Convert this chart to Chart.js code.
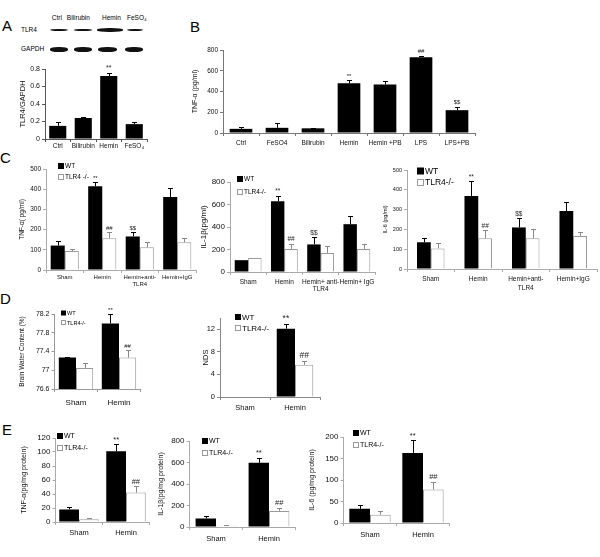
<!DOCTYPE html>
<html><head><meta charset="utf-8">
<script src="https://cdn.jsdelivr.net/npm/chart.js@4"></script>
<style>
body{margin:0;background:#fff;width:600px;height:557px;position:relative;overflow:hidden;font-family:"Liberation Sans",Arial,sans-serif;}
canvas{position:absolute;}
.L{position:absolute;font-size:15px;line-height:1;color:#000;}
.t{position:absolute;font-size:6.5px;line-height:1;color:#000;white-space:nowrap;}
.band{position:absolute;background:#111;border-radius:45%;filter:blur(0.5px);}
</style></head><body>
<div class="L" style="left:2px;top:18px">A</div>
<div class="L" style="left:190px;top:19px">B</div>
<div class="L" style="left:0px;top:150px">C</div>
<div class="L" style="left:0px;top:291px">D</div>
<div class="L" style="left:2px;top:422px">E</div>
<div id="blot"></div>
<script>
// ---------- data ----------
const FONT = '"Liberation Sans", Arial, sans-serif';
const blotLanes = ['Ctrl', 'Bilirubin', 'Hemin', 'FeSO₄'];

const catsA = ['Ctrl', 'Bilirubin', 'Hemin', 'FeSO₄'];
const valsA = [0.15, 0.24, 0.72, 0.17];
const errA  = [0.04, 0.01, 0.04, 0.03];
const marksA = ['', '', '**', ''];

const catsB = ['Ctrl', 'FeSO4', 'Bilirubin', 'Hemin', 'Hemin +PB', 'LPS', 'LPS+PB'];
const valsB = [40, 50, 45, 480, 468, 730, 220];
const errB  = [16, 46, 6, 30, 32, 15, 34];
const marksB = ['', '', '', '**', '', '##', '$$'];

const catsC = ['Sham', 'Hemin', ['Hemin+anti-', 'TLR4'], 'Hemin+IgG'];
const catsC2 = ['Sham', 'Hemin', ['Hemin+ anti-', 'TLR4'], 'Hemin+ IgG'];
const catsC3 = ['Sham', 'Hemin', ['Hemin+anti-', 'TLR4'], 'Hemin+IgG'];
const tnfWT = [121, 414, 166, 361], tnfWTerr = [23, 21, 21, 46];
const tnfKO = [94, 157, 113, 137],  tnfKOerr = [12, 30, 24, 20];
const il1WT = [105, 630, 245, 425], il1WTerr = [0, 50, 65, 70];
const il1KO = [125, 205, 170, 205], il1KOerr = [0, 45, 60, 40];
const il6WT = [135, 369, 210, 293], il6WTerr = [23, 75, 46, 47];
const il6KO = [104, 155, 155, 167], il6KOerr = [26, 42, 45, 22];
const marksCWT = ['', '**', '$$', ''];
const marksCKO = ['', '##', '', ''];

const catsD = ['Sham', 'Hemin'];
const bwcWT = [77.27, 78.0], bwcWTerr = [0.02, 0.2];
const bwcKO = [77.05, 77.27], bwcKOerr = [0.1, 0.16];
const bwcTicks = [76.6, 77, 77.4, 77.8, 78.2];
const ndsWT = [0, 12.1], ndsWTerr = [0, 0.9];
const ndsKO = [0, 5.7],  ndsKOerr = [0, 0.7];
const marksDWT = ['', '**'];
const marksDKO = ['', '##'];

const catsE = ['Sham', 'Hemin'];
const eTnfWT = [18, 101], eTnfWTerr = [4, 10];
const eTnfKO = [4, 42],   eTnfKOerr = [2, 9];
const eIl1WT = [80, 597], eIl1WTerr = [22, 46];
const eIl1KO = [12, 150], eIl1KOerr = [8, 30];
const eIl6WT = [33, 163], eIl6WTerr = [10, 29];
const eIl6KO = [19, 78],  eIl6KOerr = [8, 18];

// ---------- western blot (decorative image part) ----------
(function(){
  const b = document.getElementById('blot');
  const lx = [59, 83, 111, 136];
  blotLanes.forEach((t,i)=>{
    const d=document.createElement('div'); d.className='t'; d.textContent=t;
    d.style.left=(lx[i]-(t.length*1.8))+'px'; d.style.top='15px'; b.appendChild(d);
  });
  [['TLR4',27],['GAPDH',46]].forEach(([t,y])=>{
    const d=document.createElement('div'); d.className='t'; d.textContent=t;
    d.style.left='21px'; d.style.top=y+'px'; b.appendChild(d);
  });
  const tl=[[50,68,2],[74,92,2.5],[97,123,3.5],[127,143,2]];
  tl.forEach(([a,c,h])=>{const d=document.createElement('div');d.className='band';
    d.style.left=a+'px';d.style.width=(c-a)+'px';d.style.top=(30-h/2)+'px';d.style.height=h+'px';b.appendChild(d);});
  const gl=[[50,68],[74,92],[98,117],[125,143]];
  gl.forEach(([a,c])=>{const d=document.createElement('div');d.className='band';
    d.style.left=a+'px';d.style.width=(c-a)+'px';d.style.top='47px';d.style.height='4.5px';b.appendChild(d);});
})();

// ---------- plugins ----------
const errPlugin = {id:'errbars', afterDatasetsDraw(chart, args, opts){
  const ctx = chart.ctx, ys = chart.scales.y;
  chart.data.datasets.forEach((ds,i)=>{
    const meta = chart.getDatasetMeta(i);
    meta.data.forEach((el,j)=>{
      const v = ds.data[j], e = ds.errors ? ds.errors[j] : 0;
      let top = el.y;
      if (e > 0){
        const ye = ys.getPixelForValue(v+e);
        const x = Math.round(el.x)+0.5, yy = Math.round(ye)+0.5;
        ctx.save(); ctx.strokeStyle = ds.errColor; ctx.lineWidth = 1;
        ctx.beginPath(); ctx.moveTo(x, el.y); ctx.lineTo(x, yy);
        ctx.moveTo(x-2.5, yy); ctx.lineTo(x+2.5, yy); ctx.stroke(); ctx.restore();
        top = ye;
      }
      const m = ds.marks ? ds.marks[j] : '';
      if (m){
        ctx.save(); ctx.fillStyle = '#222'; ctx.font = (opts.size||7)+'px '+FONT;
        ctx.textAlign='center'; ctx.textBaseline='bottom';
        ctx.fillText(m, el.x, top-(opts.gap||2)); ctx.restore();
      }
    });
  });
}};
const legendPlugin = {id:'boxLegend', afterDraw(chart, args, o){
  if (!o || !o.show) return;
  const ctx = chart.ctx;
  chart.data.datasets.forEach((ds,i)=>{
    const x = o.x, y = o.y + i*o.dy, s = o.box;
    ctx.save();
    ctx.fillStyle = ds.backgroundColor; ctx.fillRect(x, y-s/2, s, s);
    if (ds.borderWidth){ ctx.strokeStyle = ds.borderColor; ctx.lineWidth=1; ctx.strokeRect(Math.round(x)+0.5, Math.round(y-s/2)+0.5, s-1, s-1); }
    ctx.fillStyle = '#000'; ctx.font = o.size+'px '+FONT; ctx.textBaseline='middle'; ctx.textAlign='left';
    ctx.fillText(ds.label, x+s+1, y+0.5);
    ctx.restore();
  });
}};

// ---------- builder ----------
function panel(box, area, c){
  const cv = document.createElement('canvas');
  cv.width = box[2]; cv.height = box[3];
  cv.style.left = box[0]+'px'; cv.style.top = box[1]+'px';
  document.body.appendChild(cv);
  const yW = area[0]-box[0], xH = box[1]+box[3]-area[3];
  const padTop = area[1]-box[1], padRight = box[0]+box[2]-area[2];
  const datasets = c.series.map(s=>({
    label:s.label, data:s.data, errors:s.err, marks:s.marks,
    backgroundColor:s.fill, borderColor:s.stroke||s.fill, borderWidth:s.bw||0,
    errColor:s.errColor||'#000', categoryPercentage:c.pct, barPercentage:1
  }));
  const ax = c.axis || '#888';
  const yScale = {
    min:c.min, max:c.max,
    grid:{drawOnChartArea:false, tickLength:3, color:ax},
    border:{color:ax},
    ticks:{stepSize:c.step, font:{size:c.tick, family:FONT}, color:'#111', padding:2,
      callback: v => String(+(+v).toFixed(2))},
    title:{display:true, text:c.ytitle, font:{size:c.tsize, family:FONT}, color:'#111', padding:0},
    afterFit: s => { s.width = yW; }
  };
  if (c.ticksList) yScale.afterBuildTicks = s => { s.ticks = c.ticksList.map(v=>({value:v})); };
  new Chart(cv, {type:'bar', data:{labels:c.labels, datasets}, options:{
    responsive:false, animation:false, events:[],
    layout:{padding:{top:padTop, right:padRight, left:0, bottom:0}},
    plugins:{legend:{display:false}, tooltip:{enabled:false},
      boxLegend: c.legend ? Object.assign({show:true}, c.legend, {x:c.legend.x-box[0], y:c.legend.y-box[1]}) : {show:false},
      errbars: {size:c.msize||7, gap:1}},
    scales:{
      x:{grid:{drawOnChartArea:false, tickLength:3, color:ax, offset:true}, border:{color:ax},
         ticks:{autoSkip:false, maxRotation:0, minRotation:0, font:{size:c.xsize||c.tick, family:FONT, lineHeight:c.xlh||1.1}, color:'#111', padding:c.xpad||1},
         afterFit: s => { s.height = xH; }},
      y: yScale
    }
  }, plugins:[errPlugin, legendPlugin]});
}
const BLK = {fill:'#000', errColor:'#000'};
const WHT = {fill:'#fff', stroke:'#999', bw:1, errColor:'#888'};
function two(l1,d1,e1,m1,l2,d2,e2,m2){
  return [Object.assign({label:l1,data:d1,err:e1,marks:m1},BLK), Object.assign({label:l2,data:d2,err:e2,marks:m2},WHT)];
}

// A
panel([18,60,134,94],[45,69,147,139],{labels:catsA, series:[Object.assign({label:'TLR4/GAPDH',data:valsA,err:errA,marks:marksA},BLK)],
  pct:0.67, min:0, max:0.8, step:0.2, tick:7, xsize:6.5, ytitle:'TLR4/GAPDH', tsize:7.5, axis:'#555', xpad:1});
// B
panel([191,44,290,108],[223,50,475,133],{labels:catsB, series:[Object.assign({label:'TNF',data:valsB,err:errB,marks:marksB},BLK)],
  pct:0.63, min:0, max:800, step:100, tick:6.5, ytitle:'TNF-α (pg/ml)', tsize:7, axis:'#777', xpad:4, msize:6});
// C1
panel([18,160,182,134],[46,169,196,270],{labels:catsC, series:two('WT',tnfWT,tnfWTerr,marksCWT,'TLR4 -/-',tnfKO,tnfKOerr,marksCKO),
  pct:0.75, min:0, max:500, step:100, tick:6.5, xsize:6, ytitle:'TNF-α( pg/ml)', tsize:6.5, axis:'#aaa', xpad:1, xlh:1.1, msize:6,
  legend:{x:58, y:166, dy:11, box:6, size:6.5}});
// C2
panel([199,170,180,126],[230,182,375,272],{labels:catsC2, series:two('WT',il1WT,il1WTerr,marksCWT,'TLR4-/-',il1KO,il1KOerr,marksCKO),
  pct:0.74, min:0, max:800, step:200, tick:8, xsize:6.5, ytitle:'IL-1β(pg/ml)', tsize:8, axis:'#aaa', xpad:3, xlh:1.15, msize:6.5,
  legend:{x:237, y:179, dy:13, box:6, size:6.5}});
// C3
panel([382,160,218,136],[407,170,597,269],{labels:catsC3, series:two('WT',il6WT,il6WTerr,marksCWT,'TLR4-/-',il6KO,il6KOerr,marksCKO),
  pct:0.58, min:0, max:500, step:100, tick:5.5, xsize:6.5, ytitle:'IL-6 (pg/ml)', tsize:5.5, axis:'#aaa', xpad:3, xlh:1.4, msize:6.5,
  legend:{x:417, y:171, dy:11.5, box:7, size:8.5}});
// D1
panel([18,305,128,105],[54.5,314,140.5,389],{labels:catsD, series:two('WT',bwcWT,bwcWTerr,marksDWT,'TLR4-/-',bwcKO,bwcKOerr,marksDKO),
  pct:0.8, min:76.6, max:78.2, ticksList:bwcTicks, tick:7, xsize:8, ytitle:'Brain Water Content (%)', tsize:6.5, axis:'#999', xpad:6, msize:6,
  legend:{x:61, y:313, dy:9.5, box:5, size:5.5}});
// D2
panel([201,308,125,105],[220,318,320,397],{labels:catsD, series:two('WT',ndsWT,ndsWTerr,marksDWT,'TLR4-/-',ndsKO,ndsKOerr,marksDKO),
  pct:0.73, min:0, max:14, step:2, tick:7.5, xsize:7.5, ytitle:'NDS', tsize:7.5, axis:'#888', xpad:4, msize:8.5,
  legend:{x:235, y:317, dy:11, box:6, size:8}});
// E1
panel([20,428,135,115],[55.5,438,149.5,522],{labels:catsE, series:two('WT',eTnfWT,eTnfWTerr,marksDWT,'TLR4-/-',eTnfKO,eTnfKOerr,marksDKO),
  pct:0.84, min:0, max:120, step:20, tick:8, xsize:7.5, ytitle:'TNF-α(pg/mg protein)', tsize:7, axis:'#aaa', xpad:4, msize:7.5,
  legend:{x:57, y:436, dy:11.5, box:6, size:7}});
// E2
panel([157,430,143,120],[189.5,441,295.5,527],{labels:catsE, series:two('WT',eIl1WT,eIl1WTerr,marksDWT,'TLR4-/-',eIl1KO,eIl1KOerr,marksDKO),
  pct:0.77, min:0, max:800, step:200, tick:8, xsize:7.5, ytitle:'IL-1β(pg/mg protein)', tsize:7, axis:'#aaa', xpad:5, msize:7.5,
  legend:{x:202, y:441, dy:11.5, box:6, size:7}});
// E3
panel([308,428,148,122],[343.5,437,449.5,523],{labels:catsE, series:two('WT',eIl6WT,eIl6WTerr,marksDWT,'TLR4-/-',eIl6KO,eIl6KOerr,marksDKO),
  pct:0.78, min:0, max:200, step:50, tick:8, xsize:7.5, ytitle:'IL-6 (pg/mg protein)', tsize:7, axis:'#aaa', xpad:5, msize:7.5,
  legend:{x:353, y:433, dy:11.5, box:6, size:7}});
</script>
</body></html>
